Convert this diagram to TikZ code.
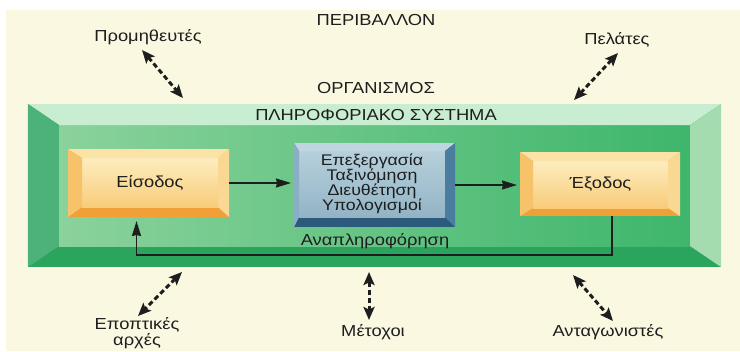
\documentclass[tikz,border=0pt]{standalone}
\usepackage{fontspec}
\setmainfont[FakeStretch=1.15]{Liberation Sans}
\usepackage{xcolor}
\usetikzlibrary{arrows.meta,positioning,calc}

% colours of the bevelled plates (t/l/r/b = top/left/right/bottom edge)
\definecolor{paper}{HTML}{FBF8E2}
\definecolor{grt}{HTML}{C9EDD0}
\definecolor{grl}{HTML}{4DB27A}
\definecolor{grr}{HTML}{A4DCB0}
\definecolor{grb}{HTML}{2BA45E}
\definecolor{grfl}{HTML}{8AD29C}
\definecolor{grfr}{HTML}{3EB66B}
\definecolor{ort}{HTML}{FBE2A6}
\definecolor{orl}{HTML}{F6C36A}
\definecolor{orr}{HTML}{F9D894}
\definecolor{orb}{HTML}{F0A036}
\definecolor{orft}{HTML}{FDEDBE}
\definecolor{orfb}{HTML}{F8CC7A}
\definecolor{blt}{HTML}{BFD6E0}
\definecolor{bll}{HTML}{8AAEC3}
\definecolor{blr}{HTML}{4B7D9E}
\definecolor{blb}{HTML}{2C5A7C}
\definecolor{blft}{HTML}{B6D0DB}
\definecolor{blfb}{HTML}{93B4C6}
\definecolor{ink}{HTML}{1E1E1E}

% bevels between outer node #1 and its face #1f, colour prefix #2
\newcommand{\bevels}[2]{%
  \fill[#2t] (#1.north west) -- (#1.north east) -- (#1f.north east) -- (#1f.north west) -- cycle;
  \fill[#2l] (#1.north west) -- (#1f.north west) -- (#1f.south west) -- (#1.south west) -- cycle;
  \fill[#2r] (#1.north east) -- (#1.south east) -- (#1f.south east) -- (#1f.north east) -- cycle;
}

\begin{document}
\begin{tikzpicture}[x=1bp, y=-1bp,
  lbl/.style={font=\fontsize{16}{14}\selectfont, text=ink, inner sep=0pt, align=center},
  plate/.style={inner sep=0pt, outer sep=0pt},
  envarr/.style={{Stealth[length=13bp,width=11bp,inset=2.5bp]}-{Stealth[length=13bp,width=11bp,inset=2.5bp]},
    line width=3bp, dash pattern=on 5bp off 3bp, ink},
  flow/.style={-{Stealth[length=15bp,width=9bp,inset=1bp]}, line width=1.8bp, ink}]
  \useasboundingbox (0,0) rectangle (740,351);
  \fill[white] (0,0) rectangle (740,351);
  \fill[paper] (6,10) rectangle (740,351);

  % organisation plate
  \node[plate, fill=grb, minimum width=693bp, minimum height=163bp] (org) at (374.5,185.5) {};
  \node[plate, left color=grfl, right color=grfr, minimum width=631bp, minimum height=121bp] (orgf) at (374.5,185.5) {};
  \bevels{org}{gr}
  \node[lbl] (infsys) at (376,115) {ΠΛΗΡΟΦΟΡΙΑΚΟ ΣΥΣΤΗΜΑ};

  % input, processing, output
  \node[plate, fill=orb, minimum width=161bp, minimum height=68bp] (eis) at (148.5,183) {};
  \node[plate, top color=orft, bottom color=orfb, minimum width=136bp, minimum height=49bp] (eisf) at (150,182.5) {};
  \bevels{eis}{or}
  \node[lbl] (eist) at (eisf) {Είσοδος};

  \node[plate, fill=blb, minimum width=161bp, minimum height=84bp] (proc) at (374.5,185) {};
  \node[plate, top color=blft, bottom color=blfb, minimum width=146bp, minimum height=66bp] (procf) at (372,184) {};
  \bevels{proc}{bl}
  \node[lbl, font=\fontsize{15.5}{15}\selectfont] (proct) at (procf) {Επεξεργασία\\Ταξινόμηση\\Διευθέτηση\\Υπολογισμοί};

  \node[plate, fill=orb, minimum width=160bp, minimum height=64bp] (exo) at (600,184) {};
  \node[plate, top color=orft, bottom color=orfb, minimum width=135bp, minimum height=47bp] (exof) at (600.5,184.5) {};
  \bevels{exo}{or}
  \node[lbl] (exot) at (exof) {Έξοδος};

  \draw[flow, shorten >=3bp] (eis.east) -- (eis.east -| proc.west);
  \draw[flow, shorten >=3bp] (proc.east) -- (proc.east -| exo.west);
  \draw[flow, shorten >=4bp] ([xshift=12bp]exo.south) -- ++(0,39) -| ([xshift=-12bp]eis.south);
  \node[lbl] (feed) at (375,241) {Αναπληροφόρηση};

  % environment
  \node[lbl] (env) at (376,20) {ΠΕΡΙΒΑΛΛΟΝ};
  \node[lbl] (orgname) at (376,88) {ΟΡΓΑΝΙΣΜΟΣ};
  \node[lbl] (sup) at (148,37) {Προμηθευτές};
  \node[lbl] (cus) at (617,40) {Πελάτες};
  \node[lbl, font=\fontsize{16}{13}\selectfont] (reg) at (137,333) {Εποπτικές\\αρχές};
  \node[lbl] (sha) at (373,332) {Μέτοχοι};
  \node[lbl] (com) at (608,332) {Ανταγωνιστές};

  \foreach \n/\ax/\ay/\bx/\by in {sup/142/50/183/98, cus/618/53/574/100,
      reg/182/272/138/316, sha/369/272/369/320, com/573/275/613/321} {
    \coordinate (\n-a) at (\ax,\ay);
    \coordinate (\n-b) at (\bx,\by);
    \draw[envarr] (\n-a) -- (\n-b);
  }
\end{tikzpicture}
\end{document}
